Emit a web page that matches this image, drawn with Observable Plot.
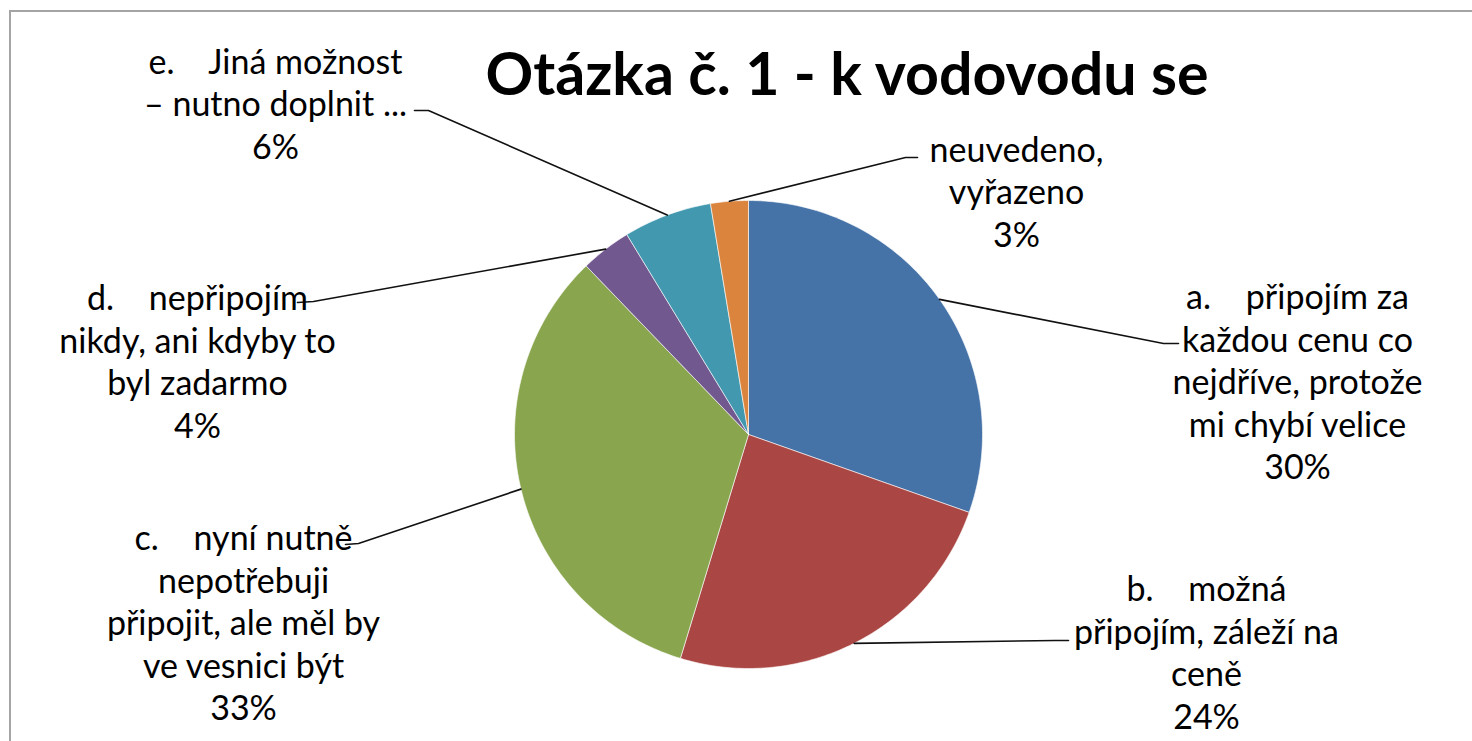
<!DOCTYPE html>
<html>
<head>
<meta charset="utf-8">
<script src="https://cdn.jsdelivr.net/npm/d3@7"></script>
<script src="https://cdn.jsdelivr.net/npm/@observablehq/plot@0.6"></script>
<style>
  html, body { margin: 0; padding: 0; background: #fff; overflow: hidden; }
  #wrap { position: relative; width: 1472px; height: 741px; overflow: hidden; }
  #frame { position: absolute; left: 9px; top: 10px; width: 1600px; height: 900px;
           border-top: 2px solid #a4a4a4; border-left: 2px solid #a4a4a4; pointer-events: none; }
  #title { position: absolute; left: 847px; top: 42px; font: bold 60px Lato, sans-serif; line-height: 1;
           white-space: nowrap; color: #000; transform: translateX(-50%) scaleX(0.985); transform-origin: 50% 50%; }
  #chart { position: absolute; left: 0; top: 0; }
</style>
</head>
<body>
<div id="wrap">
  <div id="chart"></div>
  <div id="frame"></div>
  <div id="title"></div>
</div>
<script>
// ---- data ----
const title = "Otázka č. 1 - k vodovodu se";
const categories = [
  "a.\u00a0\u00a0\u00a0\u00a0připojím za\nkaždou cenu co\nnejdříve, protože\nmi chybí velice",
  "b.\u00a0\u00a0\u00a0\u00a0možná\npřipojím, záleží na\nceně",
  "c.\u00a0\u00a0\u00a0\u00a0nyní nutně\nnepotřebuji\npřipojit, ale měl by\nve vesnici být",
  "d.\u00a0\u00a0\u00a0\u00a0nepřipojím\nnikdy, ani kdyby to\nbyl zadarmo",
  "e.\u00a0\u00a0\u00a0\u00a0Jiná možnost\n– nutno doplnit ...",
  "neuvedeno,\nvyřazeno"
];
const values = [30.4, 24.3, 33.1, 3.5, 6.1, 2.6];
const colors = ["#4572A7", "#AA4643", "#89A54E", "#71588F", "#4198AF", "#DB843D"];

// ---- layout (pixel space) ----
const W = 1472, H = 741;
const cx = 748, cy = 434, R = 234;
const labelLayout = [
  { x: 1297, y: 380, elbow: [1163, 343], end: [1178, 343] },
  { x: 1206, y: 651, elbow: [1055, 640], end: [1068, 640] },
  { x: 243,  y: 621, elbow: [358, 543],  end: [345, 544] },
  { x: 197,  y: 360, elbow: [313, 301],  end: [297, 302] },
  { x: 275,  y: 102, elbow: [428, 110],  end: [414, 110] },
  { x: 1016, y: 190, elbow: [905, 157],  end: [917, 157] }
];
const labelScaleX = 1.0;

document.getElementById("title").textContent = title;

// ---- geometry from data ----
const arcs = d3.pie().sort(null)(values);
const slicePts = arcs.flatMap((a, i) => {
  const n = Math.max(2, Math.ceil((a.endAngle - a.startAngle) / (Math.PI / 180)));
  const pts = [{ x: cx, y: cy }];
  for (let j = 0; j <= n; j++) {
    const t = a.startAngle + (a.endAngle - a.startAngle) * j / n;
    pts.push({ x: cx + R * Math.sin(t), y: cy - R * Math.cos(t) });
  }
  pts.push({ x: cx, y: cy });
  return pts.map(p => ({ ...p, name: categories[i] }));
});

const leaderPts = arcs.flatMap((a, i) => {
  const m = (a.startAngle + a.endAngle) / 2;
  const L = labelLayout[i];
  return [
    { x: cx + R * Math.sin(m), y: cy - R * Math.cos(m) },
    { x: L.elbow[0], y: L.elbow[1] },
    { x: L.end[0], y: L.end[1] }
  ].map(p => ({ ...p, name: categories[i] }));
});

const labelData = arcs.map((a, i) => ({
  x: labelLayout[i].x,
  y: labelLayout[i].y,
  text: categories[i] + "\n" + Math.round(values[i]) + "%"
}));

const svg = Plot.plot({
  width: W, height: H, margin: 0,
  x: { domain: [0, W], range: [0, W], axis: null },
  y: { domain: [0, H], range: [0, H], axis: null },
  color: { domain: categories, range: colors },
  style: { background: "transparent", fontFamily: "Lato, sans-serif", overflow: "visible" },
  marks: [
    Plot.line(slicePts, { x: "x", y: "y", z: "name", fill: "name", stroke: "#ffffff", strokeWidth: 1, strokeOpacity: 0.6, curve: "linear" }),
    Plot.line(leaderPts, { x: "x", y: "y", z: "name", stroke: "#111", strokeWidth: 1.6, curve: "linear" }),
    Plot.text(labelData, { x: "x", y: "y", text: "text", fontSize: 34, lineHeight: 1.25, lineAnchor: "middle", fill: "#000" })
  ]
});

svg.querySelectorAll('g[aria-label="text"] text').forEach(t => {
  const tr = t.getAttribute("transform") || "";
  t.setAttribute("transform", tr + ` scale(${labelScaleX},1)`);
});

document.getElementById("chart").appendChild(svg);
</script>
</body>
</html>
